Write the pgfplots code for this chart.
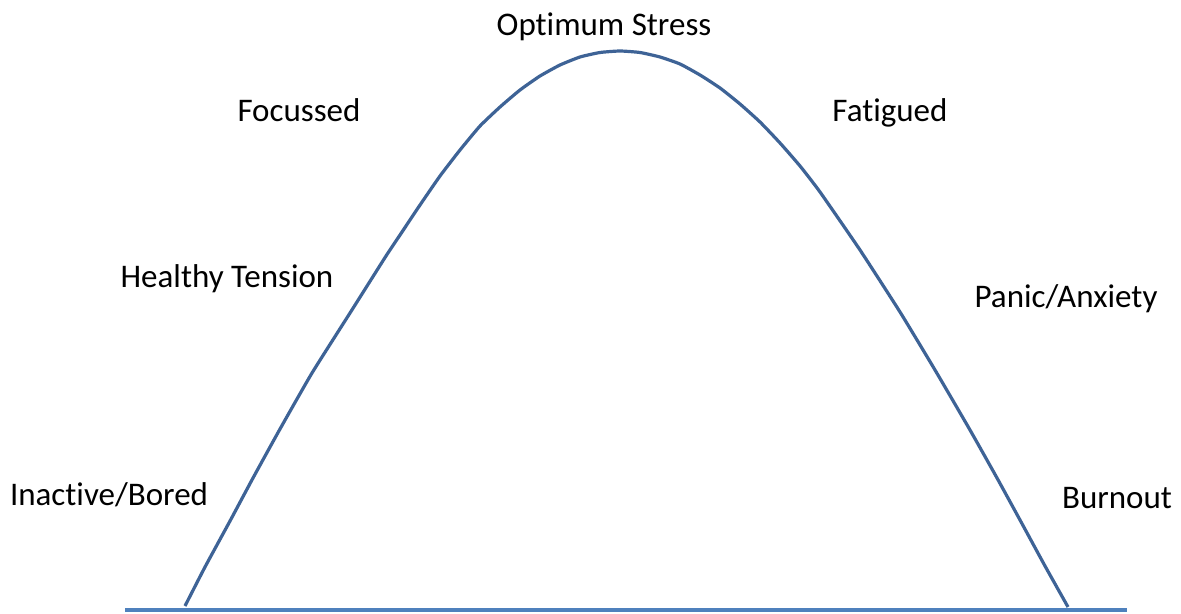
\documentclass[border=0pt]{standalone}
\usepackage{pgfplots}
\pgfplotsset{compat=1.18}
\usepackage{fontspec}
\setmainfont{Carlito}[Ligatures=NoCommon]
\definecolor{curveblue}{HTML}{3E6396}
\definecolor{baseblue}{HTML}{4F81BD}
\newcommand{\lbl}{\fontsize{16.5}{19}\selectfont}
\begin{document}
\begin{tikzpicture}
\begin{axis}[
  width=590.5pt, height=307pt, scale only axis,
  xmin=0, xmax=1181, ymin=0, ymax=614, y dir=reverse,
  hide axis, clip=false,
]
\addplot[draw=none, forget plot] coordinates {(0,0) (1181,614)};
\addplot[baseblue, line width=2pt] coordinates {(125,610) (1127,610)};
\addplot[curveblue, line width=1.6pt, smooth, tension=0.3] coordinates {
(185,606) (205,567) (230,521) (253,478) (280,429) (312,373) (350,313) (386,256)
(400,235) (420,205) (440,176) (460,150) (480,126) (500,107) (520,90) (540,76)
(560,65) (580,57) (600,52.5) (620,51) (640,52.5) (660,57) (680,64) (700,75)
(720,88) (740,104) (760,122) (780,143) (800,166) (820,192) (860,250) (900,312)
(935,370) (970,430) (997,478) (1020,520) (1045,566) (1068,607)};
\node[anchor=base, inner sep=0pt, font=\lbl] at (axis cs:604,36) {Optimum Stress};
\node[anchor=base, inner sep=0pt, font=\lbl] at (axis cs:299,122) {Focussed};
\node[anchor=base, inner sep=0pt, font=\lbl] at (axis cs:890,122) {Fatigued};
\node[anchor=base, inner sep=0pt, font=\lbl] at (axis cs:227,287) {Healthy Tension};
\node[anchor=base, inner sep=0pt, font=\lbl] at (axis cs:1066,307) {Panic/Anxiety};
\node[anchor=base, inner sep=0pt, font=\lbl] at (axis cs:109,505) {Inactive/Bored};
\node[anchor=base, inner sep=0pt, font=\lbl] at (axis cs:1117,508) {Burnout};
\end{axis}
\end{tikzpicture}
\end{document}
